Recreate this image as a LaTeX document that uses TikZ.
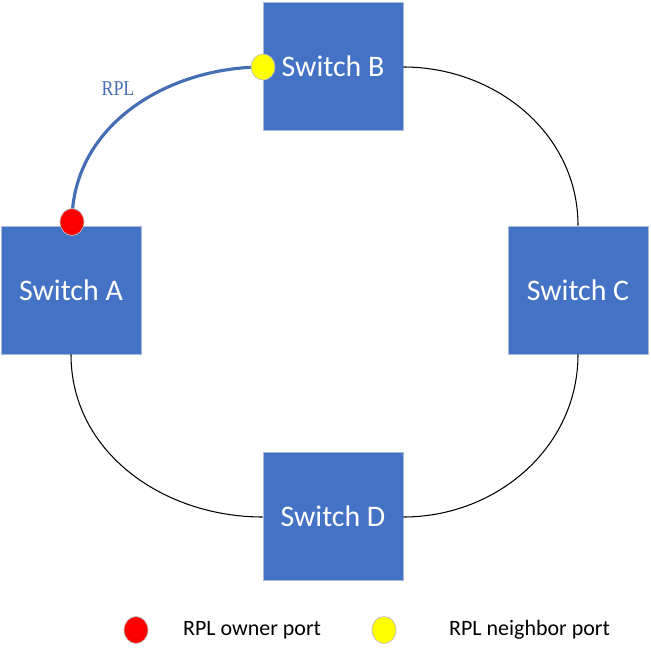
\documentclass[tikz,border=0pt]{standalone}
\usepackage{fontspec}
\setmainfont{Carlito}
\newfontfamily\rplfont{Liberation Serif}
\usetikzlibrary{positioning,calc,shapes.geometric}
\definecolor{switchblue}{RGB}{68,114,196}
\definecolor{switchedge}{RGB}{170,185,215}
\definecolor{rplblue}{RGB}{70,110,180}
\definecolor{ownerred}{RGB}{255,0,0}
\definecolor{nbryellow}{RGB}{255,255,0}

\begin{document}
\begin{tikzpicture}[
    x=0.02cm, y=-0.02cm,
    switch/.style={rectangle, fill=switchblue, draw=switchedge, line width=0.5pt, minimum width=2.8cm, minimum height=2.56cm, inner sep=0pt, text=white, font=\fontsize{17}{20}\selectfont},
    port/.style={ellipse, draw=gray!50, line width=0.4pt, minimum width=0.48cm, minimum height=0.54cm, inner sep=0pt},
    ring/.style={black, line width=0.6pt},
    rpl/.style={rplblue, line width=1.8pt},
    legend/.style={font=\fontsize{12.5}{15}\selectfont, anchor=west}
]

% === LAYOUT (pixel units of the 651x648 frame) ===
% Switch B top, Switch D bottom, A left, C right
\useasboundingbox (0,0) rectangle (651,648);

% Switches
\node[switch] (swB) at (333,66) {Switch B};
\node[switch] (swA) at (71,290) {Switch A};
\node[switch] (swC) at (578,290) {Switch C};
\node[switch] (swD) at (333,516) {Switch D};

% Ring links
\draw[ring] (swB.east |- 0,67) to[out=0, in=90] (swC.north);
\draw[ring] (swC.south) to[out=-90, in=0] (swD.east |- 0,517);
\draw[ring] (swD.west |- 0,517) to[out=180, in=-90] (swA.south);

% RPL link between owner and neighbor ports
\coordinate (ownerpt) at (72,222);
\coordinate (nbrpt) at (263,67);
\draw[rpl] (ownerpt) to[out=90, in=180] (nbrpt);
\node[rplblue, font=\rplfont\fontsize{12}{14}\selectfont, xscale=0.85] (rpllabel) at (118,89) {RPL};

% Ports
\node[port, fill=ownerred] (owner) at (ownerpt) {};
\node[port, fill=nbryellow, minimum height=0.52cm] (nbr) at (nbrpt) {};

% Legend
\node[port, fill=ownerred] (keyowner) at (136,630) {};
\node[legend, right=0.82cm of keyowner.center] (txtowner) {RPL owner port};
\node[port, fill=nbryellow] (keynbr) at (384,630) {};
\node[legend, right=1.18cm of keynbr.center] (txtnbr) {RPL neighbor port};

\end{tikzpicture}
\end{document}
